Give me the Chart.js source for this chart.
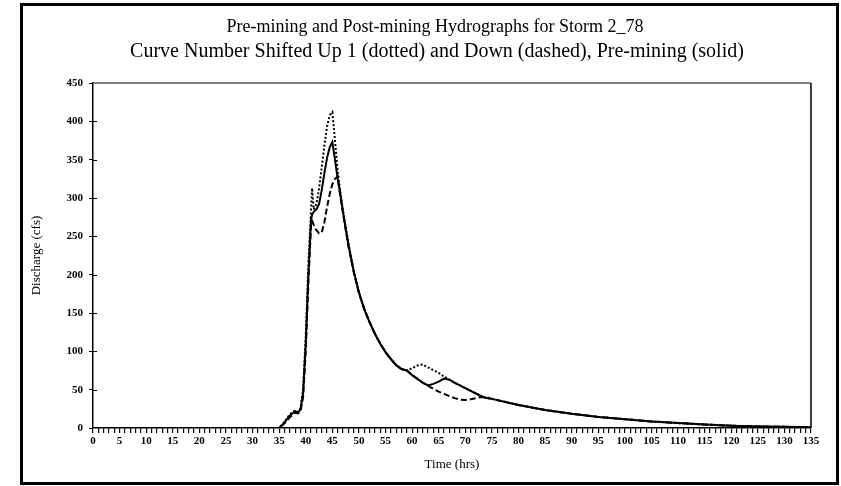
<!DOCTYPE html>
<html>
<head>
<meta charset="utf-8">
<script src="https://cdn.jsdelivr.net/npm/chart.js@4.4.1/dist/chart.umd.min.js"></script>
<style>
  html, body { margin: 0; padding: 0; background: #fff; }
  #wrap { width: 841px; height: 486px; }
</style>
</head>
<body>
<div id="wrap"><canvas id="chart" width="841" height="486"></canvas></div>
<script>
const titleLines = [
  "Pre-mining and Post-mining Hydrographs for Storm 2_78",
  "Curve Number Shifted Up 1 (dotted) and Down (dashed), Pre-mining (solid)"
]

// time (hrs)
const hours = [0, 35, 36, 37, 38, 38.5, 39, 39.5, 40, 40.5, 41, 41.2, 41.5, 42, 42.5, 43, 43.5, 44, 44.5, 45,
  45.5, 46, 46.5, 47, 48, 49, 50, 51, 52, 53, 54, 55, 56, 57, 58, 59, 60, 61, 62, 63, 64, 65, 66, 67, 68, 69,
  70, 71, 72, 73, 74, 75, 80, 85, 90, 95, 100, 105, 110, 115, 120, 125, 130, 135]

// discharge (cfs)
const preMining = [0, 0, 7, 16, 22, 20, 24, 45, 110, 200, 272, 278, 282, 285, 292, 310, 332, 352, 366, 373,
  350, 325, 305, 282, 240, 205, 177, 155, 138, 123, 110, 99, 90, 82, 77, 75, 69, 64, 59, 55.5, 57.5, 60.5, 64.5, 63, 59, 55.5,
  52, 48.5, 45, 41.5, 39, 38, 30, 23.5, 18.5, 14.5, 11.5, 8.5, 6.5, 4.5, 3, 2, 1.5, 1]

const cnUp = [0, 0, 8, 18, 23, 21, 25, 50, 120, 215, 285, 313, 285, 292, 312, 340, 368, 393, 408, 412,
  375, 335, 308, 284, 242, 206, 177, 155, 138, 123, 110, 99, 90, 82, 77, 75, 78, 81.5, 83, 79, 75.5, 72, 67, 63, 59, 55.5,
  52, 48.5, 45, 41.5, 39, 38, 30, 23.5, 18.5, 14.5, 11.5, 8.5, 6.5, 4.5, 3, 2, 1.5, 1]

const cnDown = [0, 0, 6, 14, 20, 19, 21, 40, 100, 190, 265, 270, 265, 258, 254, 255, 268, 288, 305, 318,
  325, 328, 302, 280, 238, 204, 176, 155, 138, 123, 110, 99, 90, 82, 77, 75, 69, 64, 59, 55, 51, 47.5, 44.5, 41.5, 39, 37,
  36.5, 37.5, 39, 40.5, 40, 38, 30, 23.5, 18.5, 14.5, 11.5, 8.5, 6.5, 4.5, 3, 2, 1.5, 1]

const serif = "'Liberation Serif', 'Times New Roman', serif"

function toPoints(values) {
  return hours.map((h, i) => ({ x: h, y: values[i] }))
}

function makeDataset(label, values, dash) {
  return {
    label: label,
    data: toPoints(values),
    borderColor: "#000",
    borderWidth: 2,
    borderDash: dash,
    pointRadius: 0,
    tension: 0,
    fill: false
  }
}

const framePlugin = {
  id: "frame",
  beforeDraw(chart) {
    const ctx = chart.ctx
    ctx.save()
    ctx.fillStyle = "#fff"
    ctx.fillRect(0, 0, chart.width, chart.height)
    ctx.strokeStyle = "#000"
    ctx.lineWidth = 3
    ctx.strokeRect(21.5, 4.5, 816, 479)
    ctx.restore()
  },
  afterDraw(chart) {
    const ctx = chart.ctx
    const area = chart.chartArea
    const y = chart.scales.y
    ctx.save()
    // plot box top and right
    ctx.strokeStyle = "#555"
    ctx.lineWidth = 1.5
    ctx.beginPath()
    ctx.moveTo(area.left, area.top)
    ctx.lineTo(area.right, area.top)
    ctx.stroke()
    ctx.strokeStyle = "#000"
    ctx.beginPath()
    ctx.moveTo(area.right, area.top)
    ctx.lineTo(area.right, area.bottom)
    ctx.stroke()
    // y ticks crossing into the plot
    ctx.lineWidth = 1
    for (let v = 50; v < 450; v += 50) {
      const py = Math.round(y.getPixelForValue(v)) + 0.5
      ctx.beginPath()
      ctx.moveTo(area.left, py)
      ctx.lineTo(area.left + 4, py)
      ctx.stroke()
    }
    // titles
    ctx.fillStyle = "#000"
    ctx.textAlign = "center"
    ctx.textBaseline = "middle"
    ctx.font = "18px " + serif
    ctx.fillText(titleLines[0], 435, 27)
    ctx.font = "20px " + serif
    ctx.fillText(titleLines[1], 437, 52)
    ctx.restore()
  }
}

new Chart(document.getElementById("chart"), {
  type: "line",
  data: {
    datasets: [
      makeDataset("Pre-mining", preMining, []),
      makeDataset("CN up 1", cnUp, [2, 2]),
      makeDataset("CN down", cnDown, [6, 3])
    ]
  },
  options: {
    responsive: false,
    animation: false,
    layout: { padding: { left: 22, right: 30, top: 83, bottom: 8 } },
    plugins: {
      legend: { display: false },
      title: { display: false },
      tooltip: { enabled: false }
    },
    scales: {
      x: {
        type: "linear",
        min: 0,
        max: 135,
        afterFit: s => { s.height = 50 },
        ticks: {
          stepSize: 1,
          autoSkip: false,
          maxRotation: 0,
          padding: 2,
          color: "#000",
          font: { family: serif, size: 11, weight: "bold" },
          callback: v => v % 5 === 0 ? v : ""
        },
        grid: { drawOnChartArea: false, tickLength: 5, color: "#000", lineWidth: 1.2 },
        border: { color: "#000", width: 1.5 },
        title: {
          display: true,
          text: "Time (hrs)",
          color: "#000",
          font: { family: serif, size: 13 },
          padding: { top: 2, bottom: 6 }
        }
      },
      y: {
        min: 0,
        max: 450,
        afterFit: s => { s.width = 71 },
        ticks: {
          stepSize: 50,
          padding: 6,
          color: "#000",
          font: { family: serif, size: 11, weight: "bold" }
        },
        grid: { drawOnChartArea: false, tickLength: 4, color: "#000" },
        border: { color: "#000", width: 1.5 },
        title: {
          display: true,
          text: "Discharge (cfs)",
          color: "#000",
          font: { family: serif, size: 13 },
          padding: { top: 7, bottom: 0 }
        }
      }
    }
  },
  plugins: [framePlugin]
})
</script>
</body>
</html>
